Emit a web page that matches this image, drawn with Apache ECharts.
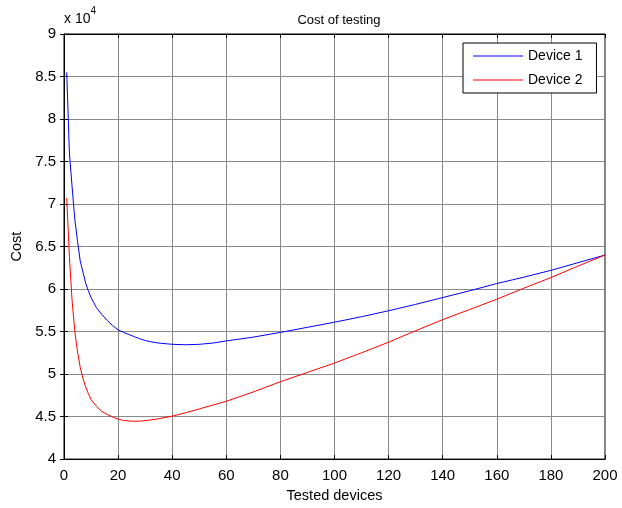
<!DOCTYPE html>
<html>
<head>
<meta charset="utf-8">
<script src="https://cdn.jsdelivr.net/npm/echarts@6/dist/echarts.min.js"></script>
<style>
  html, body { margin: 0; padding: 0; background: #fff; }
  #chart { width: 622px; height: 508px; }
</style>
</head>
<body>
<div id="chart"></div>
<script>
// Number of tested devices
var testedDevices = [1, 2, 3, 4, 5, 6, 7, 8, 9, 10, 12, 14, 16, 18, 20, 22, 24, 26, 28, 30, 32, 35, 40, 45, 50, 55, 60, 70, 80, 90, 100, 110, 120, 130, 140, 150, 160, 170, 180, 190, 200];

// Total cost of testing for each device type
var costDevice1 = [85500, 76000, 72000, 68200, 65600, 63300, 62000, 60700, 59800, 59000, 57800, 57000, 56300, 55700, 55200, 54900, 54650, 54400, 54150, 53950, 53800, 53650, 53500, 53450, 53500, 53650, 53900, 54350, 54900, 55500, 56100, 56750, 57450, 58200, 59000, 59800, 60650, 61400, 62200, 63100, 64000];
var costDevice2 = [70700, 63800, 58600, 55000, 52600, 50800, 49500, 48500, 47700, 47000, 46200, 45600, 45250, 44950, 44700, 44550, 44480, 44450, 44470, 44520, 44600, 44750, 45050, 45450, 45900, 46350, 46800, 47900, 49100, 50200, 51300, 52500, 53750, 55100, 56400, 57600, 58800, 60100, 61350, 62700, 64000];

var seriesNames = ['Device 1', 'Device 2'];
var xTicks = { min: 0, max: 200, interval: 20 };
var yTicks = { min: 40000, max: 90000, interval: 5000 };

function pairs(xs, ys) {
  return xs.map(function (x, i) { return [x, ys[i]]; });
}

var font = 'Liberation Sans, Arial, sans-serif';
var chart = echarts.init(document.getElementById('chart'), null, { renderer: 'canvas' });

var tickStyle = { show: true, inside: true, length: 4, lineStyle: { color: '#000', width: 1 } };
var gridLine = { show: true, lineStyle: { color: '#8a8a8a', width: 1 } };

chart.setOption({
  animation: false,
  backgroundColor: '#fff',
  title: {
    text: 'Cost of testing',
    left: 334, top: 9, textAlign: 'center',
    textStyle: { fontFamily: font, fontSize: 13, fontWeight: 'normal', color: '#000' }
  },
  graphic: [{
    type: 'text', left: 64, top: 6,
    style: {
      text: '{b|x 10}{s|4}',
      rich: {
        b: { fontFamily: font, fontSize: 14, fill: '#000', verticalAlign: 'bottom', padding: [6, 0, 0, 0] },
        s: { fontFamily: font, fontSize: 10, fill: '#000', verticalAlign: 'top' }
      }
    }
  }],
  legend: {
    data: seriesNames.map(function (n) { return { name: n, icon: 'rect' }; }),
    orient: 'vertical',
    left: 463, top: 43,
    padding: [6, 14, 6, 10],
    itemGap: 10,
    itemWidth: 50, itemHeight: 1.2,
    borderColor: '#000', borderWidth: 1, borderRadius: 0,
    backgroundColor: '#fff',
    textStyle: { fontFamily: font, fontSize: 14, color: '#000', lineHeight: 14 }
  },
  grid: {
    left: 64, top: 34, right: 17, bottom: 47,
    show: true, borderColor: '#000', borderWidth: 1, backgroundColor: '#fff'
  },
  xAxis: [{
    type: 'value', min: xTicks.min, max: xTicks.max, interval: xTicks.interval,
    name: 'Tested devices', nameLocation: 'middle', nameGap: 26,
    nameTextStyle: { fontFamily: font, fontSize: 14.5, color: '#000' },
    axisLine: { show: true, lineStyle: { color: '#000' } },
    axisTick: tickStyle,
    axisLabel: { fontFamily: font, fontSize: 15, color: '#000', margin: 9 },
    splitLine: gridLine
  }, {
    type: 'value', position: 'top', min: xTicks.min, max: xTicks.max, interval: xTicks.interval,
    axisLine: { show: true, lineStyle: { color: '#000' } },
    axisTick: tickStyle, axisLabel: { show: false }, splitLine: { show: false }
  }],
  yAxis: [{
    type: 'value', min: yTicks.min, max: yTicks.max, interval: yTicks.interval,
    name: 'Cost', nameLocation: 'middle', nameGap: 38, nameRotate: 90,
    nameTextStyle: { fontFamily: font, fontSize: 14.5, color: '#000' },
    axisLine: { show: true, lineStyle: { color: '#000' } },
    axisTick: tickStyle,
    axisLabel: {
      fontFamily: font, fontSize: 15, color: '#000', margin: 8,
      formatter: function (v) { return String(v / 10000); }
    },
    splitLine: gridLine
  }, {
    type: 'value', position: 'right', min: yTicks.min, max: yTicks.max, interval: yTicks.interval,
    axisLine: { show: true, lineStyle: { color: '#000' } },
    axisTick: tickStyle, axisLabel: { show: false }, splitLine: { show: false }
  }],
  series: [{
    name: seriesNames[0], type: 'line', symbol: 'none', smooth: false,
    data: pairs(testedDevices, costDevice1),
    lineStyle: { color: '#0000ff', width: 1 }, itemStyle: { color: '#0000ff' }
  }, {
    name: seriesNames[1], type: 'line', symbol: 'none', smooth: false,
    data: pairs(testedDevices, costDevice2),
    lineStyle: { color: '#ff0000', width: 1 }, itemStyle: { color: '#ff0000' }
  }]
});
</script>
</body>
</html>
